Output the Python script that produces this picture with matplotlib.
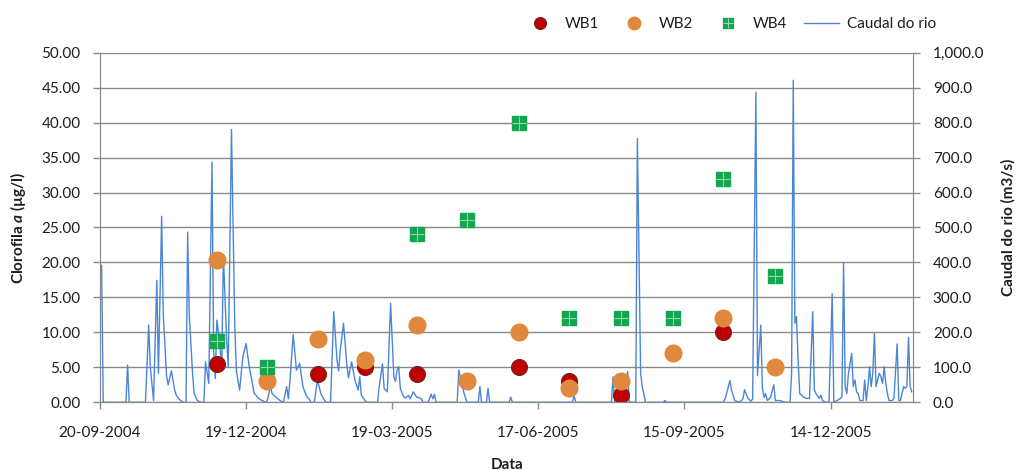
import numpy as np
import pandas as pd
import matplotlib
matplotlib.use('Agg')
import matplotlib.pyplot as plt
import matplotlib.dates as mdates
from matplotlib.ticker import FuncFormatter, MultipleLocator
from matplotlib.legend_handler import HandlerTuple

plt.rcParams['font.family'] = ['Lato', 'DejaVu Sans']
plt.rcParams['mathtext.fontset'] = 'custom'
plt.rcParams['mathtext.bfit'] = 'Lato:italic:bold'

start = pd.Timestamp('2004-09-20')

# chlorophyll a campaigns (ug/l)
sample_dates = ['2004-12-01', '2005-01-01', '2005-02-01', '2005-03-02', '2005-04-03', '2005-05-04',
                '2005-06-05', '2005-07-06', '2005-08-07', '2005-09-08', '2005-10-09', '2005-11-10']
wb1 = [5.5, np.nan, 4.0, 5.0, 4.0, np.nan, 5.0, 3.0, 1.0, np.nan, 10.0, np.nan]
wb2 = [20.3, 3.0, 9.0, 6.0, 11.0, 3.0, 10.0, 2.0, 3.0, 7.0, 12.0, 5.0]
wb4 = [8.8, 5.0, np.nan, np.nan, 24.0, 26.0, 40.0, 12.0, 12.0, 12.0, 32.0, 18.0]

# river flow (m3/s), days counted from 20-09-2004
flow_day = [0, 1, 2, 16, 17, 18, 28, 30, 31, 33, 35, 36, 38, 39, 41, 42, 44, 46, 47, 49,
            51, 53, 54, 55, 57, 58, 60, 62, 64, 65, 67, 69, 70, 71, 72, 73, 75, 76, 78, 79,
            81, 83, 84, 86, 88, 90, 92, 94, 95, 98, 102, 103, 105, 106, 109, 111, 113, 115, 116, 117,
            119, 121, 123, 125, 127, 129, 130, 132, 134, 136, 139, 142, 144, 146, 147, 148, 150, 152, 153, 155,
            157, 159, 160, 161, 164, 171, 172, 174, 175, 177, 179, 181, 182, 183, 184, 185, 187, 188, 190, 191,
            193, 195, 196, 198, 199, 202, 204, 205, 206, 207, 220, 221, 223, 224, 226, 233, 234, 235, 238, 239,
            240, 252, 253, 254, 291, 292, 293, 315, 316, 317, 322, 325, 326, 330, 331, 333, 334, 336, 347, 348,
            349, 384, 385, 386, 388, 389, 391, 394, 396, 397, 399, 401, 402, 404, 405, 407, 408, 409, 410, 411,
            413, 415, 416, 419, 422, 425, 426, 427, 428, 429, 430, 431, 433, 435, 437, 439, 440, 441, 443, 444,
            445, 447, 449, 451, 452, 454, 456, 457, 458, 459, 460, 461, 463, 464, 465, 466, 467, 468, 470, 471,
            472, 473, 474, 475, 476, 477, 478, 479, 480, 481, 482, 483, 484, 485, 486, 488, 489, 491, 492, 493,
            494, 495, 496, 497, 498, 499, 500]
flow = [380, 392, 0, 0, 106, 0, 0, 221, 100, 5, 349, 83, 532, 250, 75, 50, 90, 35, 20, 8,
        0, 0, 487, 250, 84, 25, 5, 0, 0, 116, 54, 687, 150, 68, 235, 200, 106, 421, 180, 102,
        780, 226, 90, 35, 130, 168, 100, 50, 26, 10, 0, 5, 45, 25, 12, 5, 0, 45, 10, 60,
        195, 92, 111, 45, 20, 8, 0, 0, 64, 25, 0, 0, 259, 120, 90, 149, 226, 111, 70, 116,
        64, 35, 73, 20, 0, 0, 45, 110, 40, 30, 283, 73, 60, 92, 102, 40, 16, 12, 20, 10,
        30, 15, 14, 10, 0, 0, 23, 10, 23, 0, 0, 92, 50, 30, 0, 0, 45, 0, 0, 40,
        0, 0, 15, 0, 0, 20, 0, 0, 73, 0, 5, 88, 0, 0, 754, 83, 45, 0, 0, 5,
        0, 0, 10, 26, 62, 35, 5, 0, 10, 36, 12, 3, 10, 887, 76, 221, 40, 14, 25, 5,
        14, 50, 5, 5, 0, 0, 83, 921, 226, 245, 121, 25, 16, 11, 11, 259, 35, 25, 11, 21,
        5, 0, 0, 311, 0, 5, 11, 16, 399, 45, 25, 83, 140, 45, 64, 30, 25, 5, 5, 64,
        5, 45, 102, 45, 83, 197, 45, 64, 83, 73, 54, 102, 54, 25, 5, 5, 11, 167, 5, 5,
        25, 45, 40, 45, 186, 45, 30]

x_ticks = [0, 90, 180, 270, 360, 450]

sdates = pd.to_datetime(sample_dates)
fdates = start + pd.to_timedelta(flow_day, unit='D')

grid_c = '#8a8a8a'
txt_c = '#1c1c24'

fig = plt.figure(figsize=(10.16, 4.70), dpi=100)
ax = fig.add_axes([0.0984, 0.144, 0.8006, 0.744])
ax2 = ax.twinx()

# flow on the secondary axis, kept underneath the sample markers
ax.set_zorder(2)
ax.patch.set_visible(False)
ax2.set_zorder(1)

line_h, = ax2.plot(fdates, flow, color='#4a86d4', lw=1.0, label='Caudal do rio')
ax2.set_ylim(0, 1000)
ax2.yaxis.set_major_locator(MultipleLocator(100))
ax2.yaxis.set_major_formatter(FuncFormatter(lambda v, p: '{:,.1f}'.format(v)))
ax2.grid(axis='y', color=grid_c, lw=1.0)

h1, = ax.plot(sdates, wb1, 'o', ms=11.5, color='#c00000', mec='#6a2a2a', mew=0.8, label='WB1')
h2, = ax.plot(sdates, wb2, 'o', ms=12, color='#e0883c', mec='#e0883c', label='WB2')
h4, = ax.plot(sdates, wb4, 's', ms=9.5, color='#14a550', mec='#14a550', label='WB4')
h4x, = ax.plot(sdates, wb4, '+', ms=9.5, color='#8fd8a8', mew=0.8)
ax.set_ylim(0, 50)
ax.yaxis.set_major_locator(MultipleLocator(5))
ax.yaxis.set_major_formatter(FuncFormatter(lambda v, p: '%.2f' % v))

ax.set_xlim(start, start + pd.Timedelta(days=501))
ax.set_xticks([start + pd.Timedelta(days=d) for d in x_ticks])
ax.xaxis.set_major_formatter(mdates.DateFormatter('%d-%m-%Y'))

for a in (ax, ax2):
    for s in a.spines.values():
        s.set_color(grid_c)
    a.spines['top'].set_visible(False)
    a.tick_params(colors=grid_c, labelcolor=txt_c, labelsize=11, length=5, width=1)
ax.tick_params(axis='y', pad=9)
ax2.tick_params(axis='y', pad=9)
ax.tick_params(axis='x', pad=12)

ax.set_ylabel(r'Clorofila $\mathbfit{a}$ (µg/l)', fontsize=11, fontweight='bold', color=txt_c, labelpad=10)
ax2.set_ylabel('Caudal do rio (m3/s)', fontsize=11, fontweight='bold', color=txt_c, rotation=90, labelpad=12)
ax.set_xlabel('Data', fontsize=11, fontweight='bold', color=txt_c, labelpad=13)

fig.legend([h1, h2, (h4, h4x), line_h], ['WB1', 'WB2', 'WB4', 'Caudal do rio'],
           handler_map={tuple: HandlerTuple(ndivide=1)},
           loc='center right', bbox_to_anchor=(0.935, 0.949), ncol=4, frameon=False,
           fontsize=11, handlelength=2.3, handletextpad=0.5, columnspacing=1.1,
           markerscale=0.75, labelcolor=txt_c)

fig.savefig('out.png', dpi=100, facecolor='white')
